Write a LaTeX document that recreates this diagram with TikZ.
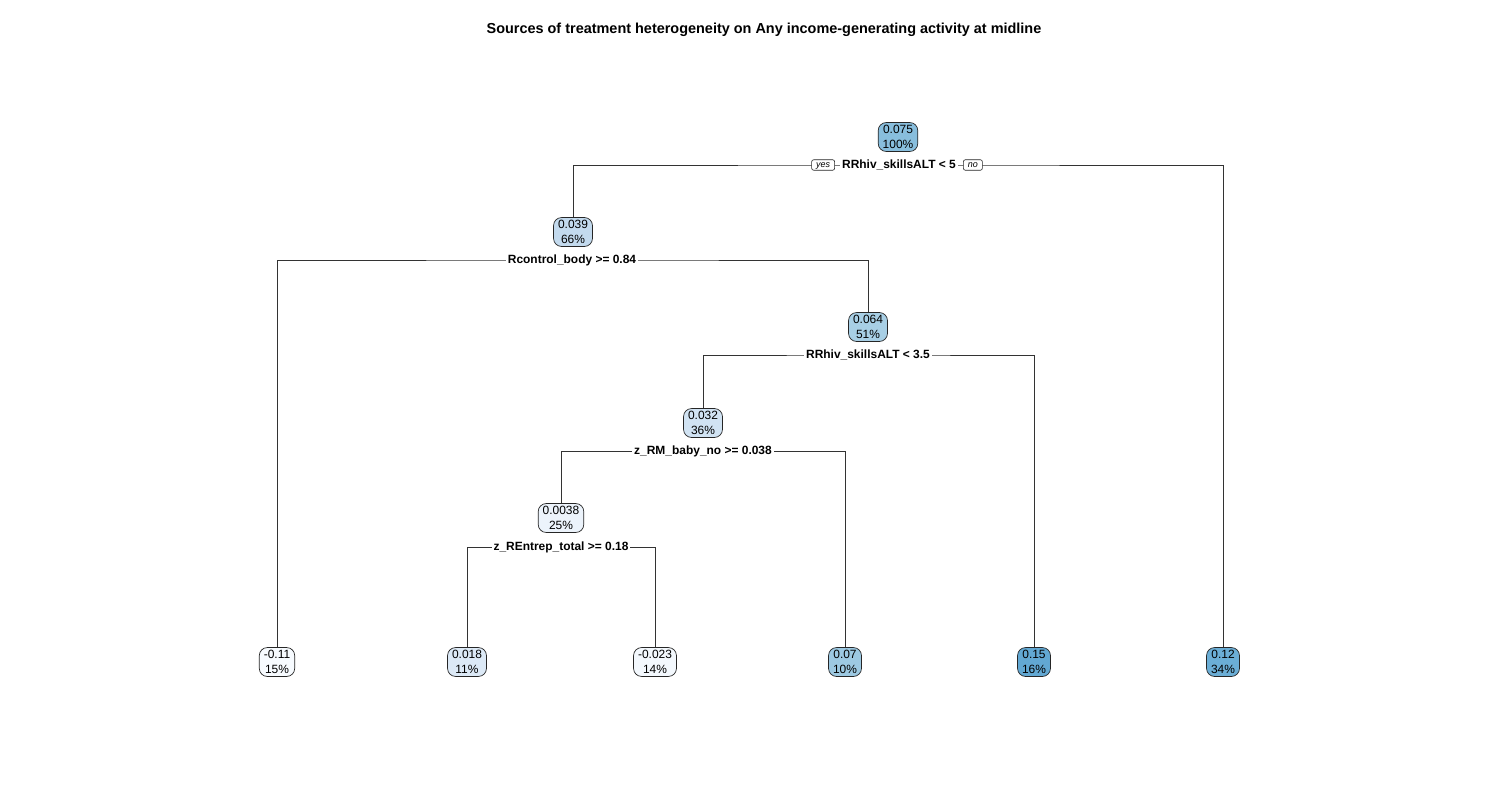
\documentclass[tikz,border=0pt]{standalone}
\usepackage{fontspec}
\setmainfont{Liberation Sans}
\usepackage{xcolor}
\usepackage{tikz}
\usetikzlibrary{positioning,backgrounds}

\definecolor{blA}{HTML}{F7FBFF}
\definecolor{blB}{HTML}{F3F8FD}
\definecolor{blC}{HTML}{ECF3FB}
\definecolor{blD}{HTML}{DCE9F6}
\definecolor{blE}{HTML}{D1E3F3}
\definecolor{blF}{HTML}{C3DAEE}
\definecolor{blG}{HTML}{A8CFE5}
\definecolor{blH}{HTML}{9DC9E2}
\definecolor{blI}{HTML}{88BEDD}
\definecolor{blJ}{HTML}{6BAED6}
\definecolor{blK}{HTML}{62A8D3}

\begin{document}
\begin{tikzpicture}[x=1bp, y=-1bp,
    tnode/.style={draw=black!85, line width=0.7bp, rounded corners=8bp, align=center,
        font=\fontsize{12}{14.5}\selectfont, inner xsep=4.5bp, inner ysep=3bp},
    split/.style={fill=white, font=\bfseries\fontsize{12}{14}\selectfont, inner xsep=2bp, inner ysep=1bp},
    yesno/.style={draw=black!85, line width=0.6bp, rounded corners=2bp, fill=white,
        font=\itshape\fontsize{9}{10}\selectfont, text height=6.5bp, text depth=2bp,
        inner xsep=4.5bp, inner ysep=1bp},
    conn/.style={draw=black!80, line width=0.75bp}]
    \useasboundingbox (0,0) rectangle (1500,800);

    \node [font=\bfseries\fontsize{14.5}{16}\selectfont] (title) at (764,30)
        {Sources of treatment heterogeneity on Any income-generating activity at midline};

    % Inner nodes
    \node [tnode, fill=blI] (n1) at (898,137) {0.075\\100\%};
    \node [tnode, fill=blF] (n2) at (573,232) {0.039\\66\%};
    \node [tnode, fill=blG] (n5) at (868,327) {0.064\\51\%};
    \node [tnode, fill=blE] (n10) at (703,423) {0.032\\36\%};
    \node [tnode, fill=blC] (n20) at (561,518) {0.0038\\25\%};

    % Split labels
    \node [split] (s1) at (899,165) {RRhiv\_skillsALT < 5};
    \node [split] (s2) at (572,260) {Rcontrol\_body >= 0.84};
    \node [split] (s5) at (868,355) {RRhiv\_skillsALT < 3.5};
    \node [split] (s10) at (703,451) {z\_RM\_baby\_no >= 0.038};
    \node [split] (s20) at (561,547) {z\_REntrep\_total >= 0.18};
    \node [yesno, left=5bp of s1] (yes) {yes};
    \node [yesno, right=5bp of s1] (no) {no};

    % Leaves
    \foreach \name/\x/\val/\pct/\col in {l4/277/-0.11/15/blA, l40/467/0.018/11/blD,
        l41/655/-0.023/14/blB, l21/845/0.07/10/blH, l11/1034/0.15/16/blK, l3/1223/0.12/34/blJ} {
        \node [tnode, fill=\col] (\name) at (\x,662) {\val\\\pct\%};
    }

    % Branches
    \begin{scope}[on background layer]
        \draw [conn] (n2.north) |- (s1.center) -| (l3.north);
        \draw [conn] (l4.north) |- (s2.center) -| (n5.north);
        \draw [conn] (n10.north) |- (s5.center) -| (l11.north);
        \draw [conn] (n20.north) |- (s10.center) -| (l21.north);
        \draw [conn] (l40.north) |- (s20.center) -| (l41.north);
    \end{scope}
\end{tikzpicture}
\end{document}
